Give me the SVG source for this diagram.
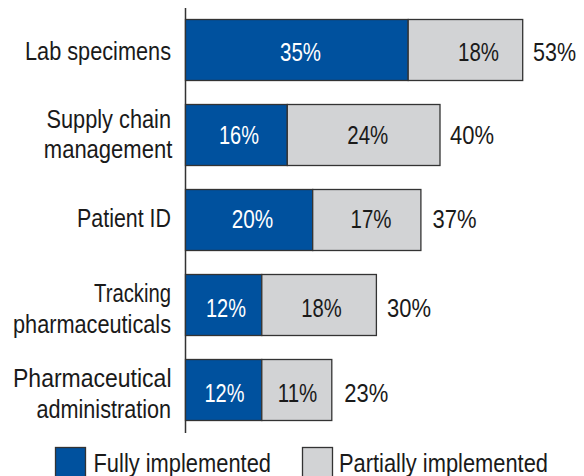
<svg xmlns="http://www.w3.org/2000/svg" width="584" height="476" viewBox="0 0 584 476">
<style>
text{font-family:"Liberation Sans Narrow","Arial Narrow","Liberation Sans",Arial,sans-serif;fill:#1a1a1a}
.lab{font-size:26.5px;text-anchor:end}
.tot{font-size:26.5px;text-anchor:start}
.in{font-size:25.5px;text-anchor:middle}
.w{fill:#ffffff}
.full{fill:#00519E;stroke:#333333;stroke-width:1.3}
.part{fill:#D2D3D5;stroke:#333333;stroke-width:1.3}
.leg{font-size:26.5px;text-anchor:start}
</style>
<rect width="584" height="476" fill="#ffffff"/>
<g id="axis"><line x1="185.5" y1="8" x2="185.5" y2="433" stroke="#333333" stroke-width="1.5"/></g>
<g id="lab-specimens">
<text class="lab" x="171" y="60" textLength="146" lengthAdjust="spacingAndGlyphs">Lab specimens</text>
<rect class="full" x="185.5" y="19.5" width="222.7" height="61"/>
<rect class="part" x="408.2" y="19.5" width="114.5" height="61"/>
<text class="in w" x="300.5" y="61" textLength="41" lengthAdjust="spacingAndGlyphs">35%</text>
<text class="in" x="478.5" y="61" textLength="41" lengthAdjust="spacingAndGlyphs">18%</text>
<text class="tot" x="533" y="61" textLength="43" lengthAdjust="spacingAndGlyphs">53%</text>
</g>
<g id="supply-chain">
<text class="lab" x="171" y="128.3" textLength="124.5" lengthAdjust="spacingAndGlyphs">Supply chain</text>
<text class="lab" x="172.3" y="158.3" textLength="128.5" lengthAdjust="spacingAndGlyphs">management</text>
<rect class="full" x="185.5" y="104.5" width="101.8" height="61"/>
<rect class="part" x="287.3" y="104.5" width="152.7" height="61"/>
<text class="in w" x="239" y="144" textLength="40" lengthAdjust="spacingAndGlyphs">16%</text>
<text class="in" x="367.8" y="144" textLength="41" lengthAdjust="spacingAndGlyphs">24%</text>
<text class="tot" x="450" y="144" textLength="44" lengthAdjust="spacingAndGlyphs">40%</text>
</g>
<g id="patient-id">
<text class="lab" x="171" y="226.7" textLength="94" lengthAdjust="spacingAndGlyphs">Patient ID</text>
<rect class="full" x="185.5" y="189.5" width="127.2" height="61"/>
<rect class="part" x="312.7" y="189.5" width="108.2" height="61"/>
<text class="in w" x="252.5" y="228.3" textLength="41.5" lengthAdjust="spacingAndGlyphs">20%</text>
<text class="in" x="371" y="228.3" textLength="41" lengthAdjust="spacingAndGlyphs">17%</text>
<text class="tot" x="432.5" y="228.3" textLength="44" lengthAdjust="spacingAndGlyphs">37%</text>
</g>
<g id="tracking">
<text class="lab" x="171" y="302" textLength="77" lengthAdjust="spacingAndGlyphs">Tracking</text>
<text class="lab" x="171" y="333" textLength="158" lengthAdjust="spacingAndGlyphs">pharmaceuticals</text>
<rect class="full" x="185.5" y="274.5" width="76.3" height="61"/>
<rect class="part" x="261.8" y="274.5" width="114.6" height="61"/>
<text class="in w" x="226" y="316.7" textLength="40" lengthAdjust="spacingAndGlyphs">12%</text>
<text class="in" x="321.5" y="316.7" textLength="40.5" lengthAdjust="spacingAndGlyphs">18%</text>
<text class="tot" x="387" y="316.7" textLength="44" lengthAdjust="spacingAndGlyphs">30%</text>
</g>
<g id="pharma-admin">
<text class="lab" x="171.5" y="387" textLength="158.5" lengthAdjust="spacingAndGlyphs">Pharmaceutical</text>
<text class="lab" x="171" y="418.3" textLength="134.5" lengthAdjust="spacingAndGlyphs">administration</text>
<rect class="full" x="185.5" y="359.5" width="76.3" height="61"/>
<rect class="part" x="261.8" y="359.5" width="70" height="61"/>
<text class="in w" x="224.5" y="402.3" textLength="40" lengthAdjust="spacingAndGlyphs">12%</text>
<text class="in" x="297.5" y="402.3" textLength="39.5" lengthAdjust="spacingAndGlyphs">11%</text>
<text class="tot" x="344.3" y="402.3" textLength="44" lengthAdjust="spacingAndGlyphs">23%</text>
</g>
<g id="legend">
<rect class="full" x="55.5" y="447.5" width="30" height="32"/>
<text class="leg" x="93.5" y="472" textLength="177.5" lengthAdjust="spacingAndGlyphs">Fully implemented</text>
<rect class="part" x="302.5" y="447.5" width="30" height="32"/>
<text class="leg" x="339" y="472" textLength="209" lengthAdjust="spacingAndGlyphs">Partially implemented</text>
</g>
</svg>
